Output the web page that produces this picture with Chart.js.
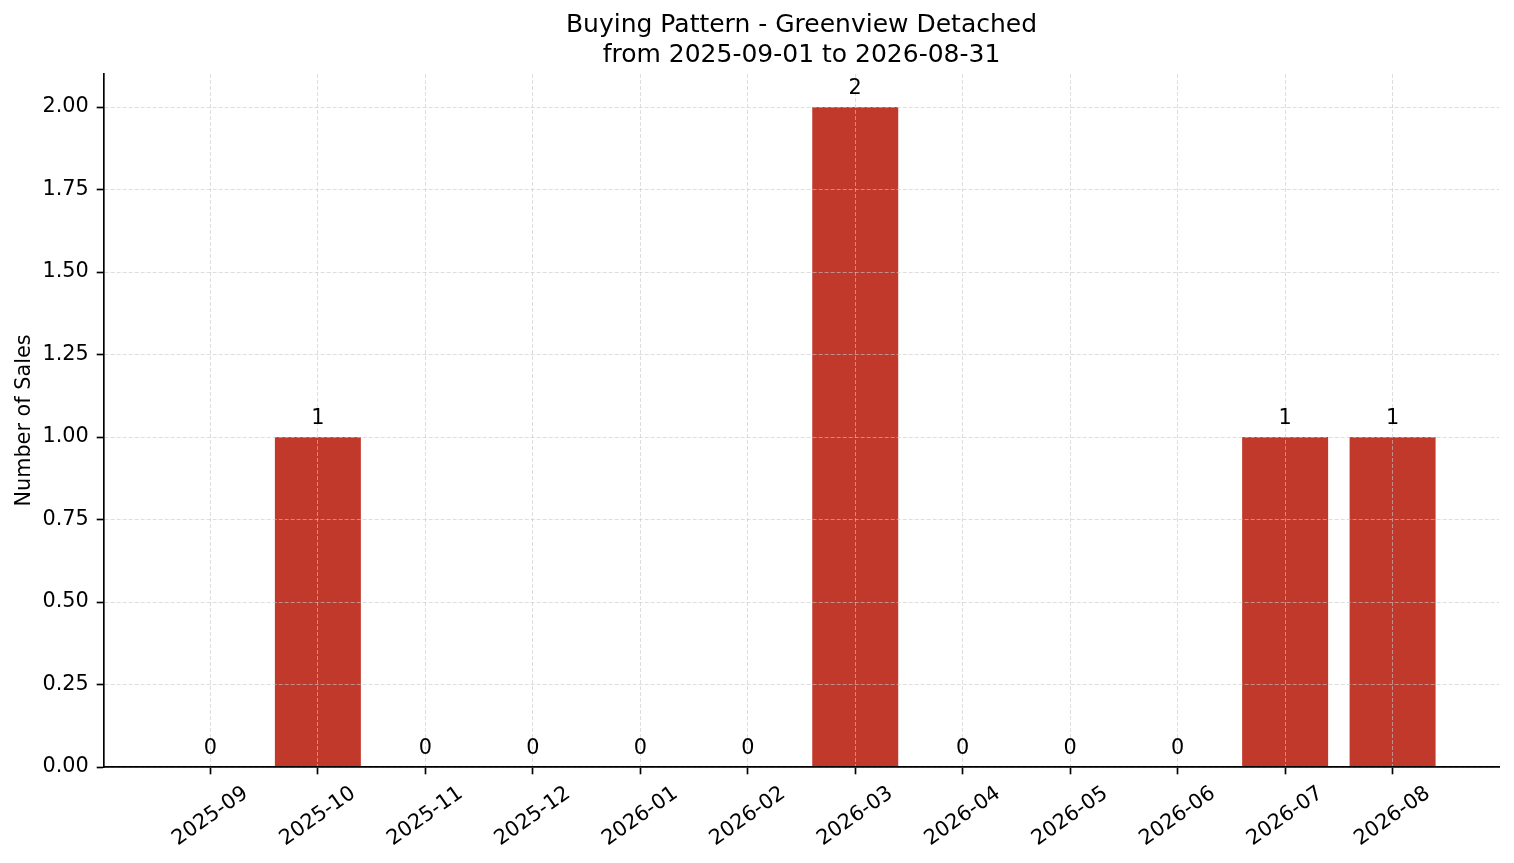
<!DOCTYPE html>
<html>
<head>
<meta charset="utf-8">
<script src="https://cdn.jsdelivr.net/npm/chart.js@4/dist/chart.umd.min.js"></script>
<style>
  html, body { margin: 0; padding: 0; background: #fff; }
  #wrap { width: 1514px; height: 863px; }
</style>
</head>
<body>
<div id="wrap"><canvas id="chartBuying"></canvas></div>
<script>
// === Data ===
const months = ["2025-09","2025-10","2025-11","2025-12","2026-01","2026-02",
                "2026-03","2026-04","2026-05","2026-06","2026-07","2026-08"];
const sales = [0, 1, 0, 0, 0, 0, 2, 0, 0, 0, 1, 1];
const yTicks = [0, 0.25, 0.5, 0.75, 1.0, 1.25, 1.5, 1.75, 2.0];
const titleLines = ["Buying Pattern - Greenview Detached", "from 2025-09-01 to 2026-08-31"];

const FONT = "'DejaVu Sans', sans-serif";
const FS = 20.8;
const barColor = "#c0392b";
const gridColor = "rgba(200,200,200,0.6)";

// value labels above each bar
const barLabels = {
    id: "barLabels",
    afterDraw(chart) {
        const ctx = chart.ctx;
        const meta = chart.getDatasetMeta(0);
        ctx.save();
        ctx.font = FS + "px " + FONT;
        ctx.fillStyle = "#000";
        ctx.textAlign = "center";
        ctx.textBaseline = "bottom";
        meta.data.forEach((bar, i) => {
            ctx.fillText(String(sales[i]), bar.x, bar.y - 8.5);
        });
        ctx.restore();
    }
};

new Chart(document.getElementById("chartBuying"), {
    type: "bar",
    data: {
        datasets: [{
            label: "Sales",
            data: months.map((m, i) => ({ x: i, y: sales[i] })),
            backgroundColor: barColor,
            borderWidth: 0,
            barPercentage: 0.8,
            categoryPercentage: 1.0
        }]
    },
    options: {
        responsive: true,
        maintainAspectRatio: false,
        animation: false,
        devicePixelRatio: 1,
        layout: { padding: { left: 0, right: 15, top: 0, bottom: 0 } },
        plugins: {
            legend: { display: false },
            tooltip: { enabled: false },
            title: {
                display: true,
                text: titleLines,
                fullSize: false,
                color: "#000",
                font: { family: FONT, size: 25, weight: "normal", lineHeight: 1.2 },
                padding: { top: 10.5, bottom: 3.5 }
            }
        },
        scales: {
            x: {
                type: "linear",
                min: -0.99,
                max: 11.99,
                offset: false,
                afterBuildTicks: (scale) => {
                    scale.ticks = months.map((m, i) => ({ value: i }));
                },
                afterFit: (scale) => {
                    scale.height = 96;
                    scale.paddingLeft = 0;
                    scale.paddingRight = 0;
                },
                ticks: {
                    autoSkip: false,
                    minRotation: 35,
                    maxRotation: 35,
                    labelOffset: 35.5,
                    padding: 7,
                    color: "#000",
                    font: { family: FONT, size: FS },
                    callback: (v) => months[v]
                },
                grid: {
                    offset: false,
                    z: 1,
                    color: gridColor,
                    lineWidth: 1,
                    tickColor: "#000",
                    tickWidth: 1.67,
                    tickLength: 7.3
                },
                border: { display: true, color: "#000", width: 1.67, dash: [4, 2], z: 2 }
            },
            y: {
                min: 0,
                max: 2.1,
                afterBuildTicks: (scale) => {
                    scale.ticks = yTicks.map(v => ({ value: v }));
                },
                afterFit: (scale) => {
                    scale.width = 104;
                },
                ticks: {
                    padding: 8,
                    color: "#000",
                    font: { family: FONT, size: FS },
                    callback: (v) => Number(v).toFixed(2)
                },
                title: {
                    display: true,
                    text: "Number of Sales",
                    color: "#000",
                    font: { family: FONT, size: FS },
                    padding: { top: 12, bottom: 0 }
                },
                grid: {
                    z: 1,
                    color: gridColor,
                    lineWidth: 1,
                    tickColor: "#000",
                    tickWidth: 1.67,
                    tickLength: 7.3
                },
                border: { display: true, color: "#000", width: 1.67, dash: [4, 2], z: 2 }
            }
        }
    },
    plugins: [barLabels]
});
</script>
</body>
</html>
